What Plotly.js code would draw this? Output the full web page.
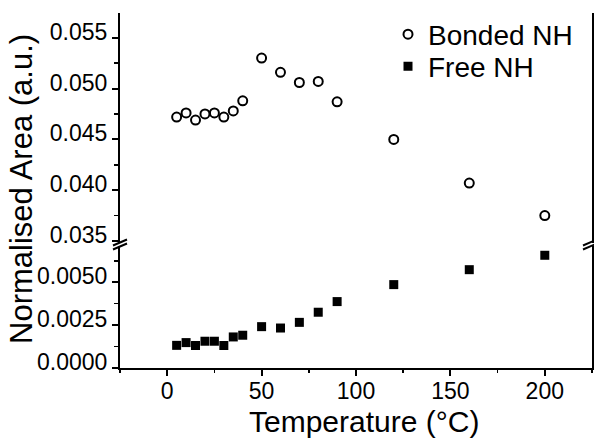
<!DOCTYPE html>
<html>
<head>
<meta charset="utf-8">
<script src="https://cdn.plot.ly/plotly-3.0.1.min.js"></script>
<style>html,body{margin:0;padding:0;background:#fff;}#chart{width:594px;height:440px;}</style>
</head>
<body>
<div id="chart"></div>
<script>
// Temperature (°C)
var temperature = [5, 10, 15, 20, 25, 30, 35, 40, 50, 60, 70, 80, 90, 120, 160, 200];
// Bonded NH normalised area (upper panel)
var bondedNH = [0.0472, 0.0476, 0.0469, 0.0475, 0.0476, 0.0472, 0.0478, 0.0488, 0.0530, 0.0516, 0.0506, 0.0507, 0.0487, 0.0450, 0.0407, 0.0375];
// Free NH normalised area (lower panel)
var freeNH = [0.00132, 0.00148, 0.00131, 0.00156, 0.00156, 0.00131, 0.00181, 0.00191, 0.00241, 0.00233, 0.00266, 0.00325, 0.00387, 0.00486, 0.00573, 0.00657];
var upperTicks = [0.035, 0.040, 0.045, 0.050, 0.055];
var lowerTicks = [0.0000, 0.0025, 0.0050];
var xTicks = [0, 50, 100, 150, 200];

var FONT = 'Liberation Sans, Arial, Helvetica, sans-serif';

// pixel helpers for decoration (break marks, titles)
var L = 120, R = 592, T = 13, B = 368;
function px(x) { return (x - L) / (R - L); }
function py(y) { return (B - y) / (B - T); }

var traces = [
  {
    x: temperature, y: bondedNH, name: 'Bonded NH', type: 'scatter', mode: 'markers',
    xaxis: 'x', yaxis: 'y2', legend: 'legend',
    marker: {symbol: 'circle-open', size: 9, color: '#000', line: {width: 2, color: '#000'}}
  },
  {
    x: temperature, y: freeNH, name: 'Free NH', type: 'scatter', mode: 'markers',
    xaxis: 'x', yaxis: 'y', legend: 'legend2',
    marker: {symbol: 'square', size: 9, color: '#000'}
  }
];

var gapLow = py(246), gapHigh = py(242.5);

function brk(xc, yc) {
  return {type: 'line', xref: 'paper', yref: 'paper',
    x0: px(xc - 7), y0: py(yc + 3), x1: px(xc + 7), y1: py(yc - 3),
    line: {color: '#000', width: 2}};
}

var tickFont = {size: 23, family: FONT, color: '#000'};

var layout = {
  width: 594, height: 440,
  margin: {l: L, r: 594 - R, t: T, b: 440 - B, autoexpand: false},
  paper_bgcolor: '#fff', plot_bgcolor: '#fff',
  font: {family: FONT, color: '#000', size: 21},
  showlegend: true,
  xaxis: {
    range: [-25, 225], anchor: 'y', tickvals: xTicks, ticktext: xTicks.map(String),
    showline: true, linecolor: '#000', linewidth: 2, showgrid: false, zeroline: false,
    ticks: 'outside', ticklen: 6, tickwidth: 2, tickcolor: '#000', ticklabelstandoff: -5,
    minor: {dtick: 25, tick0: 0, ticks: 'outside', ticklen: 3, tickwidth: 1.5, tickcolor: '#000', showgrid: false},
    tickfont: tickFont
  },
  xaxis2: {
    range: [-25, 225], anchor: 'y2', overlaying: 'x', side: 'top',
    showline: true, linecolor: '#000', linewidth: 2, showgrid: false, zeroline: false,
    ticks: '', showticklabels: false
  },
  yaxis: {
    domain: [0, gapLow], range: [0, 0.00711], anchor: 'x',
    tickvals: lowerTicks, ticktext: lowerTicks.map(function (v) { return v.toFixed(4); }),
    showline: true, linecolor: '#000', linewidth: 2, mirror: true, showgrid: false, zeroline: false,
    ticks: 'outside', ticklen: 6, tickwidth: 2, tickcolor: '#000', ticklabelshift: -6,
    minor: {dtick: 0.00125, tick0: 0, ticks: 'outside', ticklen: 4, tickwidth: 1.5, tickcolor: '#000', showgrid: false},
    tickfont: tickFont
  },
  yaxis2: {
    domain: [gapHigh, 1], range: [0.03485, 0.05744], anchor: 'x',
    tickvals: upperTicks, ticktext: upperTicks.map(function (v) { return v.toFixed(3); }),
    showline: true, linecolor: '#000', linewidth: 2, mirror: true, showgrid: false, zeroline: false,
    ticks: 'outside', ticklen: 6, tickwidth: 2, tickcolor: '#000', ticklabelshift: -6,
    minor: {dtick: 0.0025, tick0: 0, ticks: 'outside', ticklen: 4, tickwidth: 1.5, tickcolor: '#000', showgrid: false},
    tickfont: tickFont
  },
  legend: {
    x: px(388), xanchor: 'left', y: py(34.5), yanchor: 'middle',
    bgcolor: 'rgba(0,0,0,0)', borderwidth: 0,
    font: {size: 28, family: FONT, color: '#000'}
  },
  legend2: {
    x: px(388), xanchor: 'left', y: py(66.5), yanchor: 'middle',
    bgcolor: 'rgba(0,0,0,0)', borderwidth: 0,
    font: {size: 28, family: FONT, color: '#000'}
  },
  annotations: [
    {text: 'Normalised Area (a.u.)', xref: 'paper', yref: 'paper', x: px(21), y: py(189),
     xanchor: 'center', yanchor: 'middle', textangle: -90, showarrow: false,
     font: {size: 31, family: FONT, color: '#000'}},
    {text: 'Temperature (°C)', xref: 'paper', yref: 'paper', x: px(364), y: py(421),
     xanchor: 'center', yanchor: 'middle', showarrow: false,
     font: {size: 30, family: FONT, color: '#000'}}
  ],
  shapes: [
    brk(120, 242.5), brk(120, 246.5),
    brk(590, 242.5), brk(590, 246.5)
  ]
};

Plotly.newPlot('chart', traces, layout, {displayModeBar: false, staticPlot: true});
</script>
</body>
</html>
